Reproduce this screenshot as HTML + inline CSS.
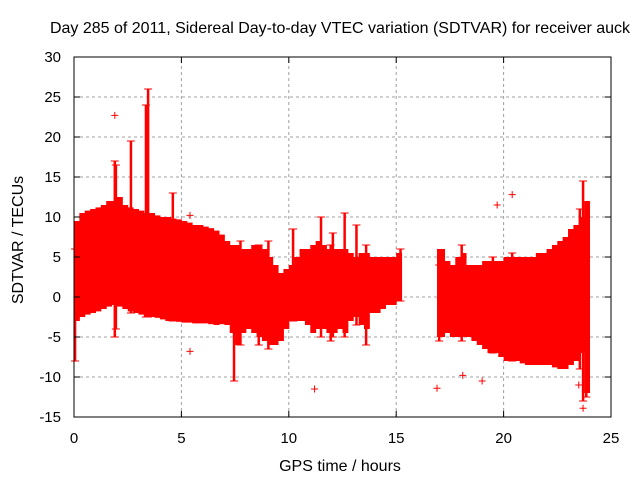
<!DOCTYPE html>
<html><head><meta charset="utf-8"><style>
body{margin:0;background:#fff}
svg{display:block;font-family:"Liberation Sans",sans-serif;font-size:15px}
</style></head><body>
<svg id="chart" width="640" height="480">
<text x="340" y="33" text-anchor="middle" style="font-size:16px">Day 285 of 2011, Sidereal Day-to-day VTEC variation (SDTVAR) for receiver auck</text>
<text x="340" y="471" text-anchor="middle" style="font-size:16px">GPS time / hours</text>
<text transform="translate(23,240) rotate(-90)" text-anchor="middle" style="font-size:16px">SDTVAR / TECUs</text>
<g id="grid"></g><g id="data"></g><g id="axes"></g>
</svg>
<script>
const times=[0,0.25,0.5,0.75,1,1.25,1.5,1.75,2,2.25,2.5,2.75,3,3.25,3.5,3.75,4,4.25,4.5,4.75,5,5.25,5.5,5.75,6,6.25,6.5,6.75,7,7.25,7.5,7.75,8,8.25,8.5,8.75,9,9.25,9.5,9.75,10,10.25,10.5,10.75,11,11.25,11.5,11.75,12,12.25,12.5,12.75,13,13.25,13.5,13.75,14,14.25,14.5,14.75,15,16.9,17.25,17.5,17.75,18,18.25,18.5,18.75,19,19.25,19.5,19.75,20,20.25,20.5,20.75,21,21.25,21.5,21.75,22,22.25,22.5,22.75,23,23.25,23.5,23.75];
const upper=[9.5,10.5,10.8,11,11.2,11.5,12,12,12.5,11.5,11.2,11,10.8,10.5,10.5,10.2,10,10,9.8,9.7,9.5,9.3,9,9,8.8,8.6,8.3,7.8,7,6.5,6.5,6,6,6.5,6.5,6,5,4,3,3.5,4,5,6,6,6.5,7,6.5,6,6,6,6,5.5,5,5.5,5.5,5,5,5,5,5,5.5,6,4.5,4,5,5.5,4,4,4,4.5,4.5,4.5,4.5,5,5,5,5,5,5,5.5,5.5,6,6.5,7,7.5,8.5,9,10,12];
const lower=[-3,-2.5,-2.2,-2,-1.8,-1.5,-1.2,-1,-1.2,-1.5,-1.8,-2,-2.2,-2.5,-2.5,-2.6,-2.8,-3,-3,-3.1,-3.2,-3.2,-3.3,-3.3,-3.3,-3.4,-3.5,-3.4,-3.5,-4.5,-6,-4.5,-4,-4.5,-5,-5.5,-6,-6,-5.5,-4,-3,-3,-3,-3.5,-4.5,-4,-4,-4.5,-4.5,-4,-4.5,-3,-2.5,-3.5,-4,-2,-2,-1.5,-1,-1,-0.5,-5,-4.5,-5,-5,-5,-5,-5.5,-6,-6.5,-7,-7,-7.5,-8,-8,-8,-8.3,-8.5,-8.5,-8.5,-8.5,-8.5,-8.8,-9,-9,-8.5,-8,-7,-12];
const spikeX=[0.05,1.9,1.95,2.65,3.35,3.45,4.6,7.45,7.75,8.6,9.05,10.2,11.5,11.95,12.05,12.6,13.15,13.6,15.2,17,18.05,19.5,20.4,23.55,23.7,23.85];
const spikeTop=[6,17,16.5,19.5,24,26,13,1,7,6.5,7,8.5,10,6.5,8,10.5,9,6.5,6,4,6.5,5,5.5,11,14.5,5];
const spikeBot=[-8,-5,-4,-2,-2.5,-2.5,-3,-10.5,-6,-6,-6.5,-3,-5,-5.5,-5,-5,-3.5,-6,-0.5,-5.5,-5.5,-7,-8,-9,-13,-12.5];
const outX=[1.9,5.4,5.4,11.2,16.9,18.1,19,19.7,20.4,23.5,23.7];
const outY=[22.7,10.2,-6.8,-11.5,-11.4,-9.8,-10.5,11.5,12.8,-11,-13.9];
const xTicks=[0,5,10,15,20,25], yTicks=[-15,-10,-5,0,5,10,15,20,25,30];
const X0=74,X1=611,Y0=417,Y1=57;
const sx=v=>X0+(v/25)*(X1-X0), sy=v=>Y0-(v+15)/45*(Y0-Y1);
const NS="http://www.w3.org/2000/svg";
function mk(t,a,p){const e=document.createElementNS(NS,t);for(const k in a)e.setAttribute(k,a[k]);p.appendChild(e);return e;}
const grid=document.getElementById('grid'),data=document.getElementById('data'),axes=document.getElementById('axes');
yTicks.forEach(v=>{
 if(v>-15&&v<30){const g=mk('line',{x1:X0,x2:X1,y1:sy(v),y2:sy(v),stroke:'#a0a0a0','stroke-dasharray':'3,3'},grid);
 
 }
 const t=mk('text',{x:X0-13,y:sy(v)+5,'text-anchor':'end'},axes);t.textContent=v;
 
 
 mk('line',{x1:X0,x2:X0+6,y1:sy(v),y2:sy(v),stroke:'#000'},axes);
 mk('line',{x1:X1,x2:X1-6,y1:sy(v),y2:sy(v),stroke:'#000'},axes);
});
xTicks.forEach(v=>{
 if(v>0&&v<25){const g=mk('line',{x1:sx(v),x2:sx(v),y1:Y0,y2:Y1,stroke:'#a0a0a0','stroke-dasharray':'3,3'},grid);
 
 }
 const t=mk('text',{x:sx(v),y:Y0+26,'text-anchor':'middle'},axes);t.textContent=v;
 
 
 mk('line',{x1:sx(v),x2:sx(v),y1:Y0,y2:Y0-6,stroke:'#000'},axes);
 mk('line',{x1:sx(v),x2:sx(v),y1:Y1,y2:Y1+6,stroke:'#000'},axes);
});
const fr=mk('rect',{x:X0,y:Y1,width:X1-X0,height:Y0-Y1,fill:'none',stroke:'#000'},axes);


for(let i=0;i<times.length;i++){
 const next=(i+1<times.length&&times[i+1]-times[i]<0.5)?times[i+1]:times[i]+0.25;
 const r=mk('rect',{x:sx(times[i]),y:sy(upper[i]),width:sx(next)-sx(times[i])+0.5,height:sy(lower[i])-sy(upper[i]),fill:'#ff0000'},data);
 
 
}
spikeX.forEach((x,i)=>{
 const l=mk('line',{x1:sx(x),x2:sx(x),y1:sy(spikeTop[i]),y2:sy(spikeBot[i]),stroke:'#ff0000','stroke-width':2.5},data);
 
 
 [spikeTop[i],spikeBot[i]].forEach(v=>{mk('path',{d:`M${sx(x)-4},${sy(v)}h8`,stroke:'#ff0000','stroke-width':1},data);});
});
outX.forEach((x,i)=>{
 const p=mk('path',{d:`M${sx(x)-3.5},${sy(outY[i])}h7M${sx(x)},${sy(outY[i])-3.5}v7`,stroke:'#ff0000','stroke-width':1},data);
 
 
});
</script>
</body></html>
